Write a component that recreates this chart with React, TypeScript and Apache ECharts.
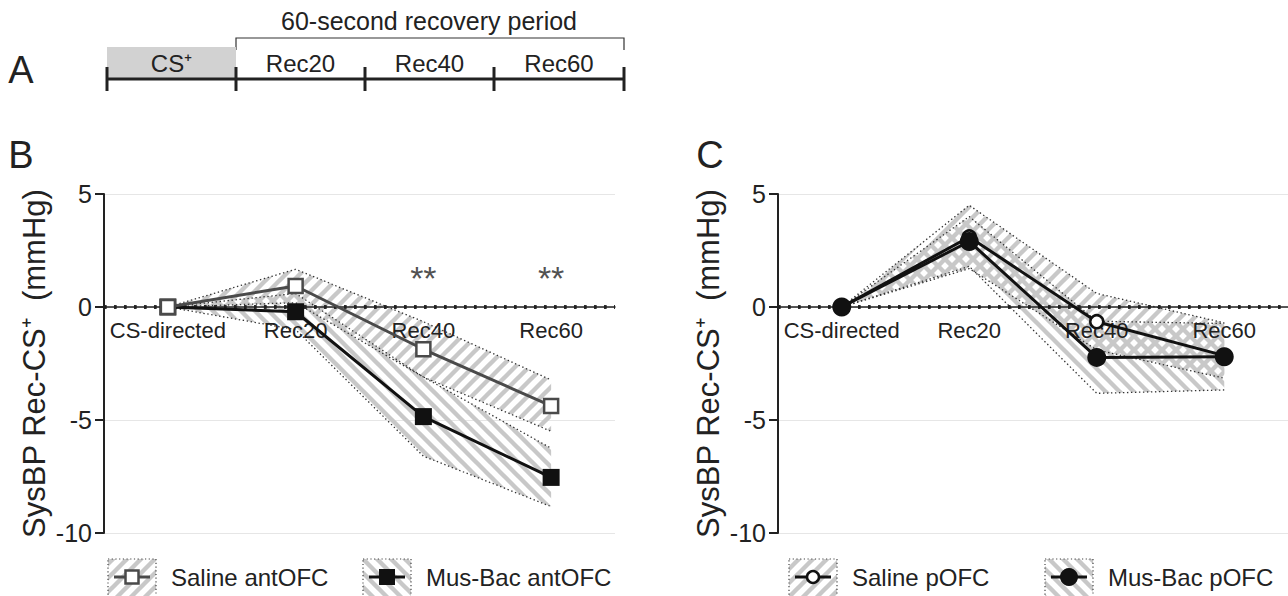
import React, { useEffect, useRef } from 'react';
import * as echarts from 'echarts';

const FONT = '"Liberation Sans", Arial, Helvetica, sans-serif';

// ---- data ----
const categories = ['CS-directed', 'Rec20', 'Rec40', 'Rec60'];
const timelineLabels = ['CS\u207A', 'Rec20', 'Rec40', 'Rec60'];
const yTitle = 'SysBP Rec-CS\u207A  (mmHg)';
const yMin = -10;
const yMax = 5;
const yStep = 5;

// Panel B (antOFC)
const salineAnt = [0, 0.93, -1.87, -4.38];
const salineAntUpper = [0, 1.67, -0.65, -3.23];
const salineAntLower = [0, 0.19, -3.1, -5.5];
const musBacAnt = [0, -0.21, -4.85, -7.54];
const musBacAntUpper = [0, 0.6, -3.1, -6.25];
const musBacAntLower = [0, -1.0, -6.6, -8.83];
const sigLabels = ['', '', '**', '**'];
const sigMarkY = [1.3, 1.3, 1.3, 1.3];

// Panel C (pOFC)
const salineP = [0, 3.1, -0.65, -2.15];
const salinePUpper = [0, 4.5, 0.6, -0.7];
const salinePLower = [0, 1.7, -1.9, -3.15];
const musBacP = [0, 2.9, -2.23, -2.2];
const musBacPUpper = [0, 4.0, -0.63, -0.73];
const musBacPLower = [0, 1.8, -3.82, -3.67];

const legendB = ['Saline antOFC', 'Mus-Bac antOFC'];
const legendC = ['Saline pOFC', 'Mus-Bac pOFC'];

function stripes(dir: number): HTMLCanvasElement {
  const s = 14;
  const c = document.createElement('canvas');
  c.width = s;
  c.height = s;
  const ctx = c.getContext('2d')!;
  ctx.strokeStyle = '#c8c8c8';
  ctx.lineWidth = 4.4;
  for (let k = -1; k <= 2; k++) {
    ctx.beginPath();
    if (dir > 0) {
      ctx.moveTo(k * s + s, -s);
      ctx.lineTo(k * s - 2 * s, 2 * s);
    } else {
      ctx.moveTo(k * s - s, -s);
      ctx.lineTo(k * s + 2 * s, 2 * s);
    }
    ctx.stroke();
  }
  return c;
}

export default function App() {
  const ref = useRef<HTMLDivElement>(null);
  useEffect(() => {
    const chart = echarts.init(ref.current!, null, { renderer: 'svg' });
    const patUp = { image: stripes(1), repeat: 'repeat' };
    const patDown = { image: stripes(-1), repeat: 'repeat' };

    const dotted = { type: [1.4, 2.6], width: 1.3, color: '#333' };
    const gridH = 339;
    // move the category axis up to the zero line
    const zeroOffset = -gridH * (0 - yMin) / (yMax - yMin);

    const band = (g: number, stack: string, lower: number[], upper: number[], pat: any) => [
      {
        type: 'line', xAxisIndex: g, yAxisIndex: g, stack, stackStrategy: 'all',
        data: lower, symbol: 'none', lineStyle: dotted, silent: true, z: 1,
        markLine: {
          silent: true, symbol: ['none', 'none'], label: { show: false },
          lineStyle: { type: [2.5, 7.5], width: 3.5, color: '#222' },
          data: [{ yAxis: 0 }], z: 3,
        },
      },
      {
        type: 'line', xAxisIndex: g, yAxisIndex: g, stack, stackStrategy: 'all',
        data: upper.map((u, i) => u - lower[i]), symbol: 'none', lineStyle: dotted,
        areaStyle: { color: pat, opacity: 1 }, silent: true, z: 1,
      },
    ];

    const xAxis = (g: number) => ({
      type: 'category', gridIndex: g, data: categories, boundaryGap: true,
      position: 'bottom', offset: zeroOffset,
      axisLine: { onZero: false, lineStyle: { color: '#222', width: 1.5 } },
      axisTick: { alignWithLabel: true, length: 6, lineStyle: { color: '#222', width: 1.5 } },
      axisLabel: { interval: 0, fontSize: 22, color: '#222', fontFamily: FONT, margin: 12 },
      splitLine: { show: false },
      z: 4,
    });
    const yAxis = (g: number) => ({
      type: 'value', gridIndex: g, min: yMin, max: yMax, interval: yStep,
      name: yTitle, nameLocation: 'middle', nameGap: 54, nameRotate: 90,
      nameTextStyle: { fontSize: 31, color: '#222', fontFamily: FONT },
      axisLine: { show: true, lineStyle: { color: '#222', width: 2 } },
      axisTick: { show: true, length: 9, lineStyle: { color: '#222', width: 2 } },
      axisLabel: { fontSize: 25, color: '#222', fontFamily: FONT, margin: 12 },
      splitLine: { show: true, lineStyle: { color: '#e6e6e6', width: 1.2 } },
    });

    const txt = (text: string, x: number, y: number, size: number, align = 'center') => ({
      type: 'text', x, y, silent: true,
      style: { text, fontSize: size, fontFamily: FONT, fill: '#222', align, verticalAlign: 'middle' },
    });

    const legendItem = (x: number, label: string, pat: any, kind: string, lineColor: string) => {
      const cx = x + 24;
      const cy = 577;
      const children: any[] = [
        { type: 'rect', shape: { x, y: 559, width: 48, height: 42 },
          style: { fill: pat, stroke: '#444', lineWidth: 1.2, lineDash: [1.2, 2.5] } },
        { type: 'line', shape: { x1: x + 6, y1: cy, x2: x + 42, y2: cy },
          style: { stroke: lineColor, lineWidth: 3 } },
      ];
      if (kind === 'openSquare') children.push({ type: 'rect', shape: { x: cx - 6.5, y: cy - 6.5, width: 13, height: 13 }, style: { fill: '#fff', stroke: '#4a4a4a', lineWidth: 2.5 } });
      if (kind === 'filledSquare') children.push({ type: 'rect', shape: { x: cx - 8, y: cy - 8, width: 16, height: 16 }, style: { fill: '#111' } });
      if (kind === 'openCircle') children.push({ type: 'circle', shape: { cx, cy, r: 6 }, style: { fill: '#fff', stroke: '#111', lineWidth: 2.5 } });
      if (kind === 'filledCircle') children.push({ type: 'circle', shape: { cx, cy, r: 9 }, style: { fill: '#111' } });
      children.push(txt(label, x + 63, cy, 24, 'left'));
      return { type: 'group', children, silent: true };
    };

    const tlX = [107, 236, 365, 494, 624];
    const graphic: any[] = [
      txt('A', 21, 70, 38),
      txt('B', 21, 155, 38),
      txt('C', 710, 155, 38),
      txt('60-second recovery period', 429, 21, 25),
      { type: 'polyline', shape: { points: [[tlX[1], 50], [tlX[1], 38], [tlX[4], 38], [tlX[4], 50]] },
        style: { stroke: '#333', lineWidth: 1.2, fill: 'none' } },
      { type: 'rect', shape: { x: tlX[0], y: 47, width: tlX[1] - tlX[0], height: 31 }, style: { fill: '#d2d2d2' } },
      { type: 'line', shape: { x1: tlX[0], y1: 79, x2: tlX[4], y2: 79 }, style: { stroke: '#222', lineWidth: 3 } },
      ...tlX.map((x) => ({ type: 'line', shape: { x1: x, y1: 67, x2: x, y2: 91 }, style: { stroke: '#222', lineWidth: 3 } })),
      ...timelineLabels.map((t, i) => txt(t, (tlX[i] + tlX[i + 1]) / 2, 63, 24)),
      legendItem(108, legendB[0], patUp, 'openSquare', '#4a4a4a'),
      legendItem(363, legendB[1], patDown, 'filledSquare', '#111'),
      legendItem(789, legendC[0], patUp, 'openCircle', '#111'),
      legendItem(1045, legendC[1], patDown, 'filledCircle', '#111'),
    ];

    const option: any = {
      animation: false,
      backgroundColor: '#fff',
      textStyle: { fontFamily: FONT },
      grid: [
        { left: 104, top: 194, width: 511, height: gridH },
        { left: 778, top: 194, width: 511, height: gridH },
      ],
      xAxis: [xAxis(0), xAxis(1)],
      yAxis: [yAxis(0), yAxis(1)],
      graphic,
      series: [
        ...band(0, 'bSal', salineAntLower, salineAntUpper, patUp),
        ...band(0, 'bMus', musBacAntLower, musBacAntUpper, patDown),
        ...band(1, 'cSal', salinePLower, salinePUpper, patUp),
        ...band(1, 'cMus', musBacPLower, musBacPUpper, patDown),
        {
          type: 'line', name: legendB[1], xAxisIndex: 0, yAxisIndex: 0, data: musBacAnt,
          symbol: 'rect', symbolSize: 17, itemStyle: { color: '#111' },
          lineStyle: { color: '#111', width: 3 }, z: 5, silent: true,
        },
        {
          type: 'line', name: legendB[0], xAxisIndex: 0, yAxisIndex: 0, data: salineAnt,
          symbol: 'rect', symbolSize: 14, itemStyle: { color: '#fff', borderColor: '#4a4a4a', borderWidth: 2.5 },
          lineStyle: { color: '#4a4a4a', width: 3 }, z: 6, silent: true,
        },
        {
          type: 'scatter', xAxisIndex: 0, yAxisIndex: 0, symbolSize: 0, silent: true, z: 7,
          data: categories.map((c, i) => ({ value: [c, sigMarkY[i]], label: { show: sigLabels[i] !== '', formatter: sigLabels[i] } })),
          label: { position: 'inside', fontSize: 34, color: '#222', fontFamily: FONT },
        },
        {
          type: 'line', name: legendC[0], xAxisIndex: 1, yAxisIndex: 1, data: salineP,
          symbol: 'circle', symbolSize: 13, itemStyle: { color: '#fff', borderColor: '#111', borderWidth: 2.5 },
          lineStyle: { color: '#111', width: 3 }, z: 5, silent: true,
        },
        {
          type: 'line', name: legendC[1], xAxisIndex: 1, yAxisIndex: 1, data: musBacP,
          symbol: 'circle', symbolSize: 19, itemStyle: { color: '#111' },
          lineStyle: { color: '#111', width: 3 }, z: 6, silent: true,
        },
      ],
    };
    chart.setOption(option);
    return () => chart.dispose();
  }, []);
  return (
    <div
      ref={ref}
      style={{ position: 'fixed', left: 0, top: 0, width: 1288, height: 596, background: '#fff' }}
    />
  );
}
